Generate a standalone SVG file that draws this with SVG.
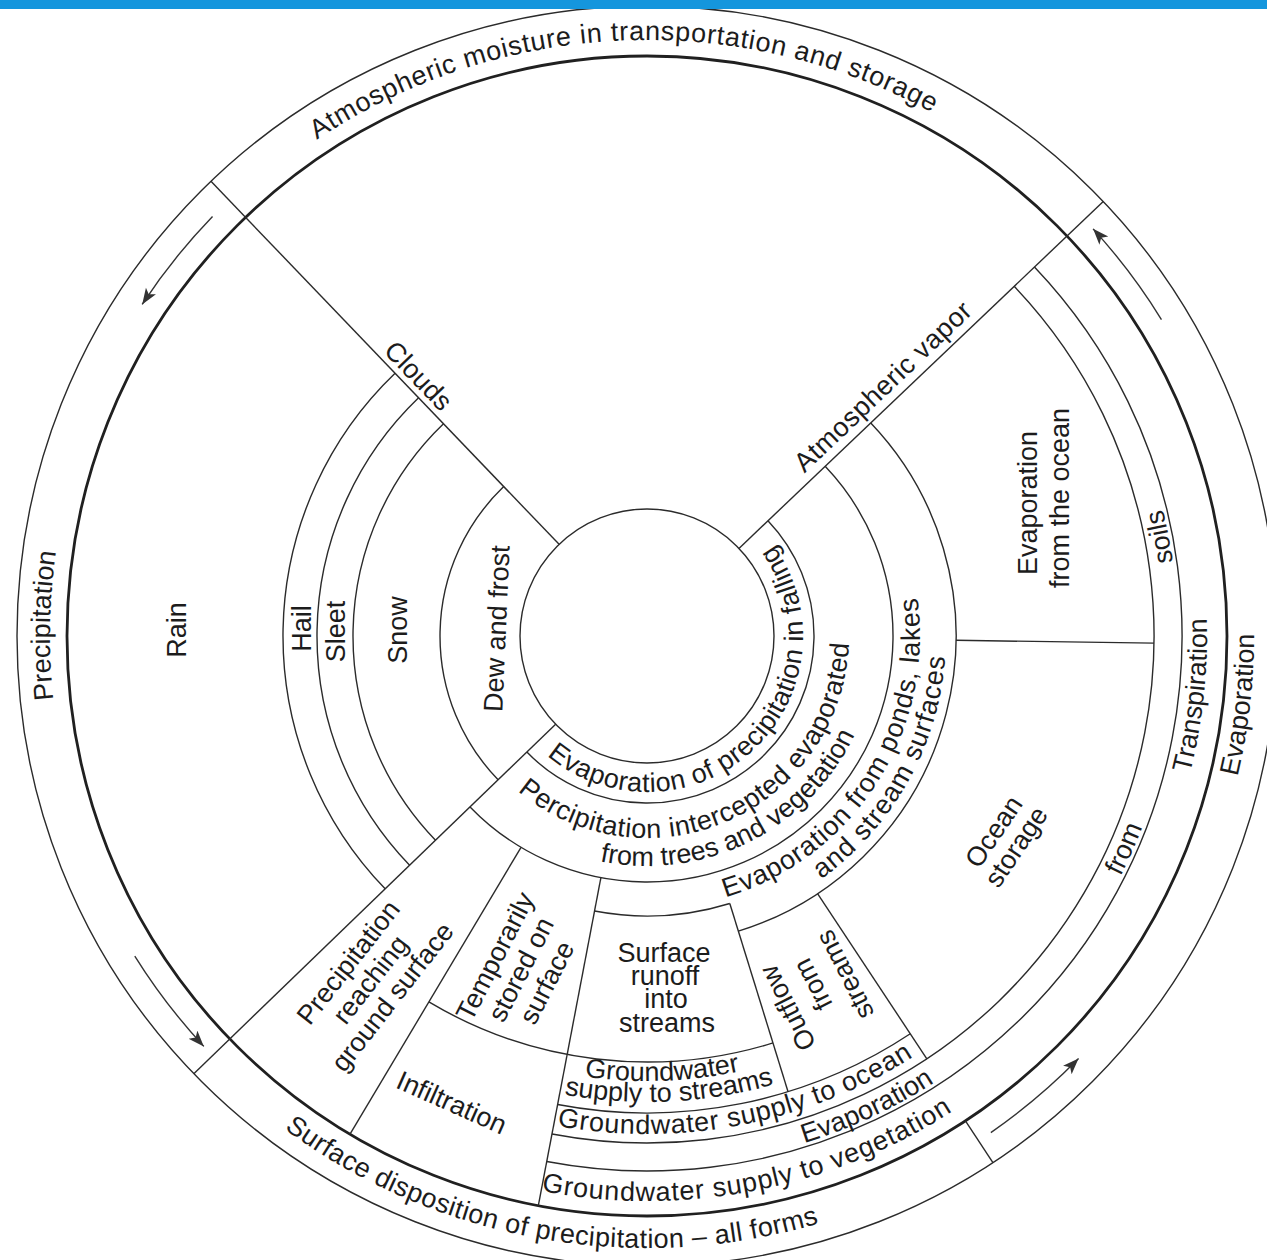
<svg xmlns="http://www.w3.org/2000/svg" width="1267" height="1260" viewBox="0 0 1267 1260">
<defs>
<style>
.ln{fill:none;stroke:#2b2b2b;stroke-width:1.4}
.bold{fill:none;stroke:#202020;stroke-width:2.8}
.arr{fill:none;stroke:#333;stroke-width:1.4;marker-end:url(#ah)}
text{font-family:"Liberation Sans",Arial,Helvetica,sans-serif;font-size:27px;fill:#1c1c1c}
.m{text-anchor:middle}
</style>
<marker id="ah" markerUnits="userSpaceOnUse" markerWidth="18" markerHeight="14" refX="16" refY="6" orient="auto"><path d="M0,0 L16,6 L0,12 L4,6 Z" fill="#333"/></marker>
<path id="p-atm" d="M263.90,179.44 A596,596 0 0 1 988.85,147.79"/>
<path id="p-prec" d="M59.07,739.67 A597,597 0 0 1 63.04,511.88"/>
<path id="p-surf" d="M245.49,1097.88 A612,612 0 0 0 866.32,1207.35"/>
<path id="p-evapR" d="M1217.39,843.61 A607,607 0 0 0 1249.73,564.13"/>
<path id="p-trans" d="M1173.23,827.53 A560,560 0 0 0 1202.08,561.93"/>
<path id="p-soils" d="M1178,636 A531,531 0 0 0 1140.03,438.80"/>
<path id="p-from" d="M1087.22,932.93 A531,531 0 0 0 1162.23,764.46"/>
<path id="p-evapB" d="M739.21,1158.93 A531,531 0 0 0 988.32,1042.77"/>
<path id="p-gwveg" d="M453.76,1166.92 A565,565 0 0 0 1025.06,1055.87"/>
<path id="p-gwocean" d="M436.54,1087.34 A498,498 0 0 0 1011.21,975.64"/>
<path id="p-gw1" d="M494.80,1054.16 A445,445 0 0 0 828.00,1042.53"/>
<path id="p-gw2" d="M493.75,1076.08 A466,466 0 0 0 842.46,1059.03"/>
<path id="p-evfall" d="M525.76,734.17 A156,156 0 1 0 753.39,521.91"/>
<path id="p-int1" d="M472.06,737.00 A202,202 0 0 0 838.78,572.57"/>
<path id="p-int2" d="M549.80,844.45 A230,230 0 0 0 871.81,684.60"/>
<path id="p-pond1" d="M694.41,904.85 A273,273 0 0 0 910.70,565.34"/>
<path id="p-pond2" d="M796.5,894.94 A299,299 0 0 0 945.85,626.61"/>
</defs>
<rect width="1267" height="1260" fill="#fff"/>

<g id="frame">
<circle cx="647" cy="636" r="630" class="ln"/>
<circle cx="647" cy="636" r="580" class="bold"/>
<circle cx="647" cy="636" r="127" class="ln"/>
<path class="ln" d="M559.10,544.33 L210.98,181.28"/>
<path class="ln" d="M738.97,548.41 L1103.25,201.51"/>
<path class="ln" d="M555.64,724.22 L193.82,1073.64"/>
<path class="ln" d="M965.45,1120.80 L992.91,1162.60"/>
<path class="ln" d="M521.04,847.30 L350.02,1134.20"/>
<path class="ln" d="M600.90,877.64 L538.32,1205.73"/>
<path class="ln" d="M729.80,903.48 L788.05,1091.67"/>
<path class="ln" d="M817.55,893.68 L926.84,1058.80"/>
<path class="ln" d="M955.97,640.31 L1153.95,643.08"/>
<path class="ln" d="M385.16,888.86 A364,364 0 0 1 395.06,373.27"/>
<path class="ln" d="M409.62,865.24 A330,330 0 0 1 418.59,397.82"/>
<path class="ln" d="M435.51,840.23 A294,294 0 0 1 443.51,423.80"/>
<path class="ln" d="M498.10,779.79 A207,207 0 0 1 503.73,486.60"/>
<path class="ln" d="M767.94,520.83 A167,167 0 0 1 765.09,754.09 A167,167 0 0 1 526.87,752.01"/>
<path class="ln" d="M825.16,466.34 A246,246 0 0 1 820.95,809.95 A246,246 0 0 1 470.04,806.89"/>
<path class="ln" d="M870.78,422.90 A309,309 0 0 1 738.37,931.18"/>
<path class="ln" d="M729.80,903.48 A280,280 0 0 1 594.53,911.04"/>
<path class="ln" d="M772.97,1042.95 A426,426 0 0 1 428.87,1001.92"/>
<path class="ln" d="M910.28,1033.78 A477,477 0 0 1 557.62,1104.55"/>
<path class="ln" d="M1014.17,286.34 A507,507 0 0 1 552.00,1134.02"/>
<path class="ln" d="M1034.45,267.03 A535,535 0 0 1 546.75,1161.53"/>
</g>

<g id="connectors">
<path class="arr" d="M212.52,216.43 A604,604 0 0 0 142.17,304.39"/>
<path class="arr" d="M134.78,956.07 A604,604 0 0 0 203.83,1046.38"/>
<path class="arr" d="M990.85,1132.57 A604,604 0 0 0 1078.54,1058.59"/>
<path class="arr" d="M1161.45,319.51 A604,604 0 0 0 1093.07,228.85"/>
</g>

<g id="atmospheric-moisture"><text class="m" letter-spacing="0.7"><textPath href="#p-atm" startOffset="50%">Atmospheric moisture in transportation and storage</textPath></text></g>
<g id="precipitation"><text class="m"><textPath href="#p-prec" startOffset="50%">Precipitation</textPath></text></g>
<g id="surface-disposition"><text class="m" letter-spacing="0.4"><textPath href="#p-surf" startOffset="50%">Surface disposition of precipitation – all forms</textPath></text></g>
<g id="evaporation-outer"><text class="m"><textPath href="#p-evapR" startOffset="50%">Evaporation</textPath></text></g>
<g id="transpiration"><text class="m"><textPath href="#p-trans" startOffset="50%">Transpiration</textPath></text></g>
<g id="evaporation-from-soils">
<text class="m"><textPath href="#p-evapB" startOffset="50%">Evaporation</textPath></text>
<text class="m"><textPath href="#p-from" startOffset="50%">from</textPath></text>
<text class="m"><textPath href="#p-soils" startOffset="50%">soils</textPath></text>
</g>
<g id="gw-vegetation"><text class="m" letter-spacing="0.8"><textPath href="#p-gwveg" startOffset="50%">Groundwater supply to vegetation</textPath></text></g>
<g id="gw-ocean"><text class="m" letter-spacing="0.7"><textPath href="#p-gwocean" startOffset="50%">Groundwater supply to ocean</textPath></text></g>
<g id="gw-streams">
<text class="m"><textPath href="#p-gw1" startOffset="50%">Groundwater</textPath></text>
<text class="m"><textPath href="#p-gw2" startOffset="50%">supply to streams</textPath></text>
</g>
<g id="evap-falling"><text class="m" letter-spacing="0.45"><textPath href="#p-evfall" startOffset="50%">Evaporation of precipitation in falling</textPath></text></g>
<g id="intercepted">
<text class="m" letter-spacing="0.5"><textPath href="#p-int1" startOffset="50%">Percipitation intercepted evaporated</textPath></text>
<text class="m"><textPath href="#p-int2" startOffset="50%">from trees and vegetation</textPath></text>
</g>
<g id="evap-ponds">
<text class="m" letter-spacing="0.8"><textPath href="#p-pond1" startOffset="50%">Evaporation from ponds, lakes</textPath></text>
<text class="m" letter-spacing="1"><textPath href="#p-pond2" startOffset="50%">and stream surfaces</textPath></text>
</g>

<g id="rain"><text class="m" transform="translate(185.5,630) rotate(-90)">Rain</text></g>
<g id="hail"><text class="m" transform="translate(310.5,628.5) rotate(-90)">Hail</text></g>
<g id="sleet"><text class="m" transform="translate(344.5,631.5) rotate(-90)">Sleet</text></g>
<g id="snow"><text class="m" transform="translate(407,630) rotate(-90)">Snow</text></g>
<g id="dew-frost"><text class="m" transform="translate(506,629) rotate(-87.5)">Dew and frost</text></g>
<g id="clouds"><text class="m" transform="translate(411.8,382.1) rotate(46.2)">Clouds</text></g>
<g id="atmospheric-vapor"><text class="m" letter-spacing="0.5" transform="translate(889.2,393.0) rotate(-43.6)">Atmospheric vapor</text></g>
<g id="evap-ocean">
<text class="m" transform="translate(1037,503) rotate(-90)">Evaporation</text>
<text class="m" transform="translate(1069,498) rotate(-90)">from the ocean</text>
</g>
<g id="ocean-storage" transform="translate(1005.5,839.5) rotate(-56)"><text class="m" y="-5">Ocean</text><text class="m" y="22">storage</text></g>
<g id="outflow" transform="translate(812,985) rotate(-117)"><text class="m" x="-9.6" y="-23">Outflow</text><text class="m" y="10">from</text><text class="m" x="-6" y="43">streams</text></g>
<g id="temporarily-stored" transform="translate(522,970) rotate(-63)"><text class="m" y="-21">Temporarily</text><text class="m" y="8">stored on</text><text class="m" y="37">surface</text></g>
<g id="precip-reaching" transform="translate(372,981) rotate(-52)"><text class="m" y="-21">Precipitation</text><text class="m" y="7">reaching</text><text class="m" y="35">ground surface</text></g>
<g id="infiltration"><text class="m" transform="translate(448,1111) rotate(24)">Infiltration</text></g>
<g id="surface-runoff">
<text class="m" x="664" y="962">Surface</text>
<text class="m" x="665" y="985">runoff</text>
<text class="m" x="666" y="1008">into</text>
<text class="m" x="667" y="1032">streams</text>
</g>

<rect id="top-bar" x="0" y="0" width="1267" height="9" fill="#1596dd"/>
</svg>
